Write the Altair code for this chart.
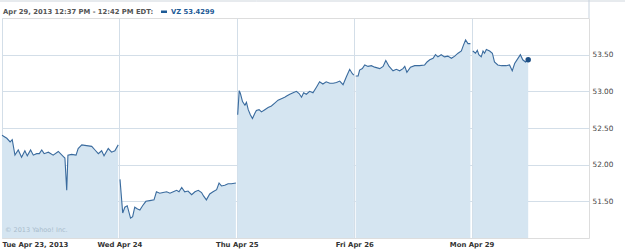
import altair as alt
import pandas as pd

# ---- data (minutes after 9:30 open, price) ----
day_labels = ["Tue Apr 23, 2013", "Wed Apr 24", "Thu Apr 25", "Fri Apr 26", "Mon Apr 29"]

tue_min = [0, 16, 27, 34, 43, 54, 65, 76, 84, 95, 104, 115, 124, 132, 140, 154, 170, 187, 204, 209,
           215, 219, 231, 246, 253, 265, 281, 298, 309, 320, 331, 339, 353, 364, 375, 386]
tue_px = [52.40, 52.36, 52.31, 52.34, 52.13, 52.20, 52.10, 52.19, 52.12, 52.20, 52.13, 52.15, 52.15,
          52.20, 52.15, 52.17, 52.13, 52.18, 52.11, 52.09, 51.65, 52.13, 52.14, 52.13, 52.22, 52.27,
          52.26, 52.25, 52.20, 52.15, 52.19, 52.12, 52.22, 52.17, 52.19, 52.27]

wed_min = [2, 11, 18, 26, 37, 44, 51, 59, 68, 77, 88, 101, 115, 123, 134, 145, 157, 168, 179, 190,
           198, 207, 217, 228, 240, 251, 262, 273, 280, 289, 300, 311, 323, 331, 339, 350, 361, 372, 387]
wed_px = [51.80, 51.34, 51.42, 51.44, 51.27, 51.29, 51.42, 51.40, 51.38, 51.44, 51.50, 51.51, 51.52,
          51.63, 51.61, 51.62, 51.63, 51.61, 51.63, 51.65, 51.63, 51.69, 51.63, 51.64, 51.59, 51.63,
          51.65, 51.62, 51.57, 51.52, 51.60, 51.63, 51.66, 51.75, 51.71, 51.72, 51.74, 51.74, 51.75]

thu_min = [3, 8, 12, 19, 27, 32, 38, 45, 52, 60, 65, 74, 82, 93, 104, 115, 126, 137, 148, 159, 167,
           176, 187, 198, 207, 215, 222, 231, 242, 253, 265, 275, 286, 297, 309, 320, 331, 342, 353,
           364, 375, 384, 389]
thu_px = [52.68, 53.01, 52.97, 52.86, 52.81, 52.85, 52.75, 52.68, 52.63, 52.70, 52.74, 52.75, 52.72,
          52.75, 52.78, 52.80, 52.84, 52.88, 52.90, 52.92, 52.94, 52.96, 52.98, 53.00, 52.97, 52.92,
          52.98, 52.96, 53.00, 52.98, 53.06, 53.13, 53.10, 53.13, 53.11, 53.11, 53.12, 53.14, 53.09,
          53.20, 53.30, 53.24, 53.22]

fri_min = [5, 13, 18, 27, 35, 46, 57, 68, 85, 96, 105, 116, 129, 140, 151, 162, 168, 175, 187, 201,
           217, 234, 242, 251, 262, 270, 278, 289, 300, 311, 323, 334, 345, 356, 363, 370, 378, 386]
fri_px = [53.21, 53.21, 53.29, 53.31, 53.36, 53.34, 53.35, 53.33, 53.31, 53.34, 53.42, 53.34, 53.28,
          53.30, 53.28, 53.31, 53.34, 53.26, 53.33, 53.35, 53.35, 53.36, 53.40, 53.43, 53.45, 53.50,
          53.47, 53.50, 53.47, 53.48, 53.45, 53.48, 53.52, 53.55, 53.63, 53.70, 53.65, 53.65]

mon_min = [4, 13, 19, 24, 32, 38, 43, 49, 60, 69, 76, 87, 99, 115, 126, 135, 143, 154, 162, 170, 179, 188]
mon_px = [53.55, 53.52, 53.56, 53.50, 53.47, 53.55, 53.52, 53.57, 53.55, 53.52, 53.40, 53.36, 53.35,
          53.35, 53.36, 53.28, 53.38, 53.45, 53.50, 53.43, 53.40, 53.4299]

y_ticks = [51.5, 52.0, 52.5, 53.0, 53.5]
session_minutes = 390

rows = []
for d, (mins, pxs) in enumerate([(tue_min, tue_px), (wed_min, wed_px), (thu_min, thu_px),
                                 (fri_min, fri_px), (mon_min, mon_px)]):
    for m, p in zip(mins, pxs):
        rows.append({"day": d, "t": d + m / session_minutes, "price": p})
df = pd.DataFrame(rows)
last = df.tail(1)

label_expr = "[" + ",".join("'%s'" % s for s in day_labels) + "][datum.value]"

W, H = 587, 220
x_scale = alt.Scale(domain=[0, 5], nice=False, zero=False)
y_scale = alt.Scale(domain=[51.0, 54.0], nice=False, zero=False)

x_enc = alt.X("t:Q", scale=x_scale, axis=alt.Axis(
    values=list(range(len(day_labels))), labelExpr=label_expr, labelFlush=True,
    grid=True, gridColor="#d3dee8", ticks=False, domain=False, labelPadding=3,
    labelFont="DejaVu Sans", labelFontWeight="bold", labelFontSize=6.9, labelColor="#333333",
    title=None))
y_enc = alt.Y("price:Q", scale=y_scale, axis=alt.Axis(
    orient="right", values=y_ticks, format=".2f", grid=True, gridColor="#d3dee8",
    ticks=False, domain=False, labelPadding=3, labelFont="DejaVu Sans", labelFontSize=7.3,
    labelColor="#444444", title=None))

base = alt.Chart(df)
area = base.mark_area(color="#d5e5f1", opacity=1).encode(
    x=x_enc, y=y_enc, y2=alt.datum(51.0), detail="day:N")
line = base.mark_line(color="#3a6b9e", strokeWidth=1.1).encode(
    x="t:Q", y="price:Q", detail="day:N")
dot = alt.Chart(last).mark_circle(color="#1d4f85", size=30, opacity=1).encode(x="t:Q", y="price:Q")

# header / decorations
hdr = pd.DataFrame({"a": [0]})
top_rule = alt.Chart(hdr).mark_rule(color="#cfd6dd", strokeWidth=1).encode(
    x=alt.value(-2), x2=alt.value(623), y=alt.value(-17))
right_rule = alt.Chart(hdr).mark_rule(color="#c8d3de", strokeWidth=1).encode(
    x=alt.value(W), y=alt.value(-18), y2=alt.value(0))
hdr_text = alt.Chart(hdr).mark_text(
    align="left", baseline="middle", font="DejaVu Sans", fontSize=6.8, fontWeight="bold",
    color="#555555").encode(x=alt.value(1), y=alt.value(-6),
                            text=alt.value("Apr 29, 2013 12:37 PM - 12:42 PM EDT:"))
hdr_swatch = alt.Chart(hdr).mark_rect(color="#1d5a96").encode(
    x=alt.value(159), x2=alt.value(165), y=alt.value(-7.5), y2=alt.value(-5))
hdr_val = alt.Chart(hdr).mark_text(
    align="left", baseline="middle", font="DejaVu Sans", fontSize=6.8, fontWeight="bold",
    color="#1d5a96").encode(x=alt.value(169), y=alt.value(-6), text=alt.value("VZ 53.4299"))
copyright = alt.Chart(hdr).mark_text(
    align="left", baseline="middle", font="DejaVu Sans", fontSize=6.5,
    color="#a9bccc").encode(x=alt.value(3), y=alt.value(H - 8), text=alt.value("© 2013 Yahoo! Inc."))

chart = alt.layer(area, line, dot, copyright, top_rule, right_rule, hdr_text, hdr_swatch, hdr_val).properties(
    width=W, height=H,
    padding={"left": 2, "top": 18, "right": 36, "bottom": 14},
    autosize=alt.AutoSizeParams(type="none"),
).configure_view(stroke="#c8d3de", strokeWidth=1).configure(background="white")

chart.save("out.html", embed_options={"renderer": "svg", "actions": False})
